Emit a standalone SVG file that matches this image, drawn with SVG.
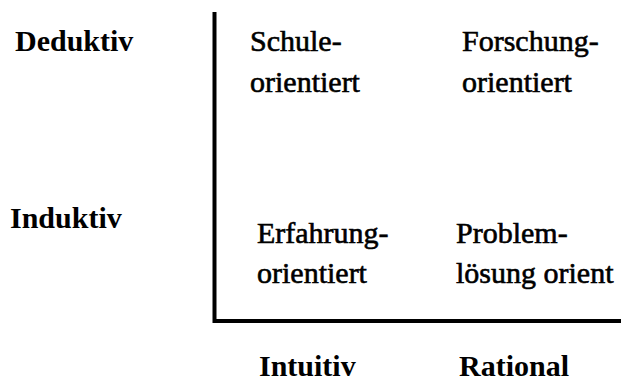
<svg xmlns="http://www.w3.org/2000/svg" width="621" height="383" viewBox="0 0 621 383">
<style>
.axis{font-family:"Liberation Serif",serif;font-size:30px;font-weight:bold;fill:#000}
.cell{font-family:"Liberation Serif",serif;font-size:30px;font-weight:normal;fill:#000;stroke:#000;stroke-width:0.6}
.line{stroke:#000;stroke-width:4;fill:none}
</style>
<rect width="621" height="383" fill="#fff"/>
<g id="connectors">
<path class="line" d="M214.5,12 V321 H621"/>
</g>
<g id="deduktiv"><text class="axis" x="15" y="51">Deduktiv</text></g>
<g id="induktiv"><text class="axis" x="10" y="228">Induktiv</text></g>
<g id="intuitiv"><text class="axis" x="259" y="376">Intuitiv</text></g>
<g id="rational"><text class="axis" x="459" y="376">Rational</text></g>
<g id="schule"><text class="cell" x="250" y="51">Schule-</text><text class="cell" x="250" y="92">orientiert</text></g>
<g id="forschung"><text class="cell" x="462" y="51">Forschung-</text><text class="cell" x="462" y="92">orientiert</text></g>
<g id="erfahrung"><text class="cell" x="257" y="243">Erfahrung-</text><text class="cell" x="257" y="283">orientiert</text></g>
<g id="problem"><text class="cell" x="456" y="243">Problem-</text><text class="cell" x="456" y="283">lösung orient</text></g>
</svg>
